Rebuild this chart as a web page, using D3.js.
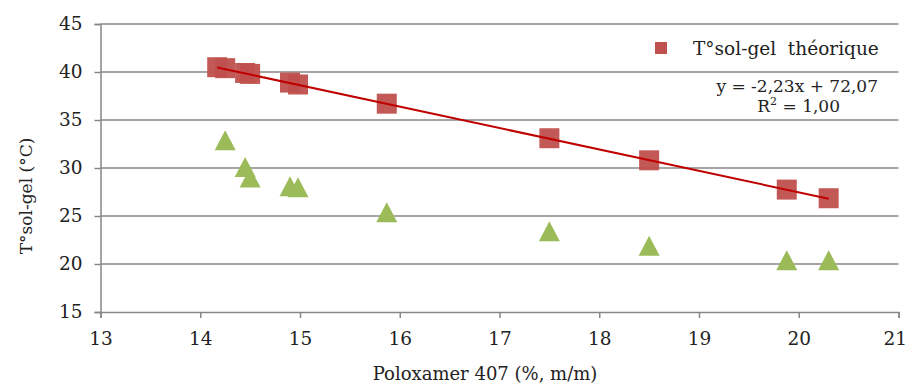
<!DOCTYPE html>
<html><head><meta charset="utf-8">
<script src="https://cdn.jsdelivr.net/npm/d3@7"></script>
<style>body{margin:0;background:#fff}svg{display:block}text{font-family:"DejaVu Serif",serif;fill:#222}</style>
</head><body><svg id="c" width="907" height="385"></svg>
<script>
const xTheo = [14.17, 14.25, 14.45, 14.5, 14.9, 14.98, 15.87, 17.5, 18.5, 19.88, 20.3];
const yTheo = [40.5, 40.4, 39.9, 39.8, 38.9, 38.7, 36.7, 33.1, 30.8, 27.75, 26.85];
const xExp = [14.25, 14.45, 14.5, 14.9, 14.98, 15.87, 17.5, 18.5, 19.88, 20.3];
const yExp = [32.9, 30.1, 29.0, 28.1, 28.0, 25.4, 23.4, 21.9, 20.4, 20.4];
const xTicks = [13, 14, 15, 16, 17, 18, 19, 20, 21];
const yTicks = [15, 20, 25, 30, 35, 40, 45];
const slope = -2.23, intercept = 72.07;
const legendLabel = "T°sol-gel\u00A0\u00A0théorique";
const eqLabel = "y = -2,23x + 72,07";
const xTitle = "Poloxamer 407 (%, m/m)";
const yTitle = "T°sol-gel (°C)";

const svg = d3.select("#c");
const x = d3.scaleLinear().domain([13, 21]).range([100.5, 898.5]);
const y = d3.scaleLinear().domain([15, 45]).range([312, 24]);
const grid = "#878787";

// gridlines
svg.append("g").selectAll("line").data(yTicks.filter(d => d > 15)).join("line")
  .attr("x1", x(13)).attr("x2", x(21)).attr("y1", d => y(d)).attr("y2", d => y(d))
  .attr("stroke", grid).attr("stroke-width", 1.5);

// axes
const xa = svg.append("g").attr("transform", `translate(0,${y(15)})`)
  .call(d3.axisBottom(x).tickValues(xTicks).tickSize(6).tickPadding(14).tickFormat(d3.format("d")));
const ya = svg.append("g").attr("transform", `translate(${x(13)},0)`)
  .call(d3.axisLeft(y).tickValues(yTicks).tickSize(6).tickPadding(12).tickFormat(d3.format("d")));
[xa, ya].forEach(a => {
  a.select(".domain").attr("stroke", grid).attr("stroke-width", 1.5);
  a.selectAll(".tick line").attr("stroke", grid).attr("stroke-width", 1.5);
  a.selectAll("text").style("font-family", '"DejaVu Serif",serif').style("font-size", "18.5px").attr("fill", "#222");
});
xa.selectAll(".tick").filter(d => d === 21).select("text").attr("text-anchor", "end").attr("x", 8);

// theoretical squares
const s = 20;
svg.append("g").selectAll("rect").data(xTheo.map((v, i) => [v, yTheo[i]])).join("rect")
  .attr("x", d => x(d[0]) - s / 2).attr("y", d => y(d[1]) - s / 2)
  .attr("width", s).attr("height", s).attr("fill", "#C0504D").attr("fill-opacity", 0.95);

// experimental triangles (bbox-centred)
const triPath = "M0,-10L10.5,10L-10.5,10Z";
svg.append("g").selectAll("path").data(xExp.map((v, i) => [v, yExp[i]])).join("path")
  .attr("d", triPath).attr("transform", d => `translate(${x(d[0])},${y(d[1])})`)
  .attr("fill", "#9BBB59");

// trendline in front of squares
const tx = d3.extent(xTheo);
svg.append("line").attr("x1", x(tx[0])).attr("y1", y(slope * tx[0] + intercept))
  .attr("x2", x(tx[1])).attr("y2", y(slope * tx[1] + intercept))
  .attr("stroke", "#C00000").attr("stroke-width", 2);

// legend
svg.append("rect").attr("x", 655).attr("y", 42).attr("width", 12).attr("height", 12).attr("fill", "#C0504D");
svg.append("text").attr("x", 693).attr("y", 55).style("font-size", "18.5px").text(legendLabel);

// equation
svg.append("text").attr("x", 878).attr("y", 92).attr("text-anchor", "end").style("font-size", "17px").text(eqLabel);
const r = svg.append("text").attr("x", 840).attr("y", 112).attr("text-anchor", "end").style("font-size", "17px");
r.append("tspan").text("R");
r.append("tspan").attr("dy", -7).style("font-size", "11px").text("2");
r.append("tspan").attr("dy", 7).text(" = 1,00");

// axis titles
svg.append("text").attr("x", 485).attr("y", 380).attr("text-anchor", "middle").style("font-size", "18px").text(xTitle);
svg.append("text").attr("transform", "translate(32,196) rotate(-90)").attr("text-anchor", "middle").style("font-size", "17px").text(yTitle);
</script></body></html>
